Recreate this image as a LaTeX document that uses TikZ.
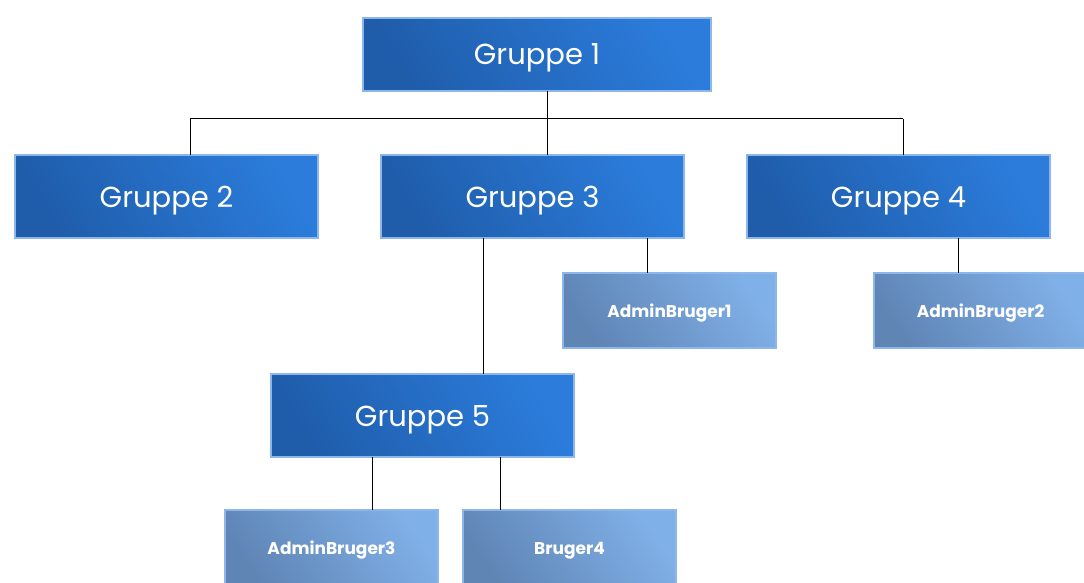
\documentclass[tikz,border=0pt]{standalone}
\usepackage{fontspec}
\setmainfont{Poppins}
\definecolor{bigA}{HTML}{1F5DAB}
\definecolor{bigB}{HTML}{2B7CDB}
\definecolor{smA}{HTML}{5F85B5}
\definecolor{smB}{HTML}{80B0E8}
\definecolor{edge}{HTML}{8DB6EA}
\tikzset{
  big/.style={anchor=north west, minimum width=303pt, minimum height=83pt, inner sep=0pt, outer sep=0pt,
    left color=bigA, right color=bigB, shading angle=120, draw=edge, line width=2pt,
    text=white, font=\fontsize{29}{33}\selectfont, text height=21pt, text depth=0pt},
  small/.style={anchor=north west, minimum width=213pt, minimum height=75pt, inner sep=0pt, outer sep=0pt,
    left color=smA, right color=smB, shading angle=125, draw=edge, line width=2pt,
    text=white, font=\fontsize{17}{20}\selectfont\bfseries, text height=13pt, text depth=0pt},
  link/.style={draw=black, line width=1pt}
}
\begin{document}
\begin{tikzpicture}[x=1pt,y=-1pt]
\useasboundingbox (0,0) rectangle (1084,583);
\fill[white] (0,0) rectangle (1084,583);
\node[big, minimum width=348pt, minimum height=73pt] (g1) at (363,18) {Gruppe 1};
\node[big] (g2) at (15,155) {Gruppe 2};
\node[big] (g3) at (381,155) {Gruppe 3};
\node[big] (g4) at (747,155) {Gruppe 4};
\node[small] (a1) at (563,273) {AdminBruger1};
\node[small] (a2) at (874,273) {AdminBruger2};
\node[big] (g5) at (271,374) {Gruppe 5};
\node[small] (a3) at (225,510) {AdminBruger3};
\node[small] (b4) at (463,510) {Bruger4};
\coordinate (bus) at (547,119);
\coordinate (busL) at (190,119);
\coordinate (busR) at (903,119);
\draw[link] (g1.south -| bus) -- (bus);
\draw[link] (busL) -- (busR);
\draw[link] (busL) -- (g2.north -| busL);
\draw[link] (bus) -- (g3.north -| bus);
\draw[link] (busR) -- (g4.north -| busR);
\draw[link] (g3.south -| 647,0) -- (a1.north -| 647,0);
\draw[link] (g4.south -| 958,0) -- (a2.north -| 958,0);
\draw[link] (g3.south -| 483,0) -- (g5.north -| 483,0);
\draw[link] (g5.south -| 372,0) -- (a3.north -| 372,0);
\draw[link] (g5.south -| 500,0) -- (b4.north -| 500,0);
\end{tikzpicture}
\end{document}
